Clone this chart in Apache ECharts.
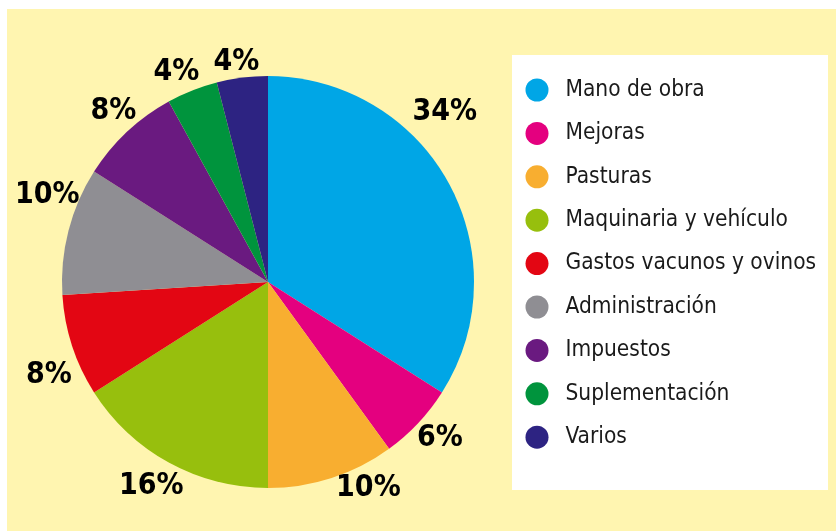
<!DOCTYPE html>
<html>
<head>
<meta charset="utf-8">
<title>Costos</title>
<script src="https://cdn.jsdelivr.net/npm/echarts@6/dist/echarts.min.js"></script>
<style>
  html, body { margin: 0; padding: 0; background: #fff; }
  #chart { width: 836px; height: 531px; }
</style>
</head>
<body>
<div id="chart"></div>
<script>
// categories and shares (%), clockwise from 12 o'clock
const categories = ['Mano de obra', 'Mejoras', 'Pasturas', 'Maquinaria y vehículo',
  'Gastos vacunos y ovinos', 'Administración', 'Impuestos', 'Suplementación', 'Varios']
const shares = [34, 6, 10, 16, 8, 10, 8, 4, 4]
const colors = ['#00A6E6', '#E4007F', '#F8AE30', '#97BF0D', '#E30613',
  '#8F8E93', '#6A1A80', '#00943D', '#2D2382']

// label placement tweaks: [angle shift in degrees, distance from centre]
const labelNudge = [[-15, 245], [-1, 232], [-8, 229], [1, 235], [-5, 238],
  [7, 237], [1, 230], [-2, 229], [-1, 222]]

const cx = 268
const cy = 282
const radius = 206
const condensed = "'Liberation Sans Narrow', 'DejaVu Sans Condensed', sans-serif"

// mid angle of every slice
const total = shares.reduce((a, b) => a + b, 0)
let acc = 0
const midAngles = shares.map(v => {
  const m = (acc + v / 2) / total * Math.PI * 2
  acc += v
  return m
})

const chart = echarts.init(document.getElementById('chart'))

chart.setOption({
  animation: false,
  graphic: [
    { type: 'rect', z: 0, shape: { x: 7, y: 9, width: 829, height: 522 }, style: { fill: '#FFF5B0' } },
    { type: 'rect', z: 1, shape: { x: 512, y: 55, width: 316, height: 435 }, style: { fill: '#FFFFFF' } }
  ],
  legend: {
    orient: 'vertical',
    left: 525.5,
    top: 76.5,
    padding: 0,
    icon: 'circle',
    itemWidth: 23,
    itemHeight: 23,
    itemGap: 16.4,
    z: 5,
    textStyle: {
      fontFamily: condensed,
      fontSize: 22.5,
      lineHeight: 27,
      color: '#1a1a1a',
      padding: [0, 0, 0, 12]
    },
    data: categories
  },
  series: [{
    type: 'pie',
    center: [cx, cy],
    radius: [0, radius],
    startAngle: 90,
    clockwise: true,
    silent: true,
    z: 3,
    label: {
      show: true,
      position: 'outside',
      overflow: 'none',
      formatter: '{d}%',
      fontFamily: condensed,
      fontWeight: 'bold',
      fontSize: 30,
      color: '#000'
    },
    labelLine: { show: false },
    labelLayout: function (params) {
      const nudge = labelNudge[params.dataIndex]
      const a = midAngles[params.dataIndex] + nudge[0] * Math.PI / 180
      return {
        x: cx + nudge[1] * Math.sin(a),
        y: cy - nudge[1] * Math.cos(a),
        align: 'center',
        verticalAlign: 'middle'
      }
    },
    data: categories.map((name, i) => ({
      name: name,
      value: shares[i],
      itemStyle: { color: colors[i] }
    }))
  }]
})
</script>
</body>
</html>
